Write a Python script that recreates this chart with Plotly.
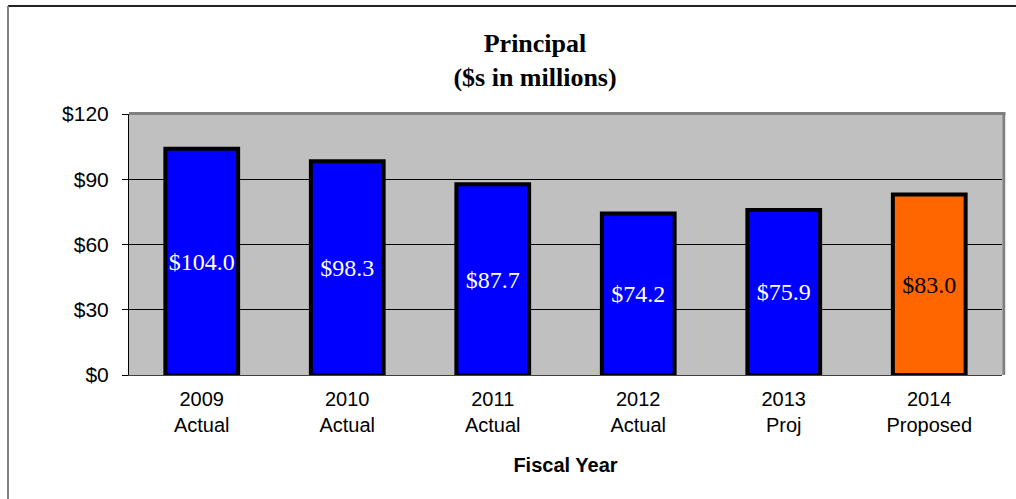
import plotly.graph_objects as go

categories = ["2009<br>Actual", "2010<br>Actual", "2011<br>Actual", "2012<br>Actual", "2013<br>Proj", "2014<br>Proposed"]
principal = [104.0, 98.3, 87.7, 74.2, 75.9, 83.0]
bar_colors = ["#0000FF", "#0000FF", "#0000FF", "#0000FF", "#0000FF", "#FF6600"]
label_colors = ["white", "white", "white", "white", "white", "black"]
y_ticks = [0, 30, 60, 90, 120]
y_tick_labels = ["$0", "$30", "$60", "$90", "$120"]

SANS = "Liberation Sans, Arial, sans-serif"
SERIF = "Liberation Serif, Times New Roman, serif"

fig = go.Figure(
    go.Bar(
        x=categories,
        y=principal,
        width=0.5,
        marker=dict(color=bar_colors, line=dict(color="black", width=4)),
        texttemplate="$%{y:.1f}",
        textposition="inside",
        insidetextanchor="middle",
        textangle=0,
        textfont=dict(family=SERIF, size=24, color=label_colors),
        hoverinfo="skip",
    )
)

fig.update_layout(
    width=1016,
    height=499,
    margin=dict(l=129, r=14, t=114, b=124),
    paper_bgcolor="white",
    plot_bgcolor="#C0C0C0",
    showlegend=False,
    title=dict(
        text="<b>Principal<br>($s in millions)</b>",
        font=dict(family=SERIF, size=26, color="black"),
        x=535 / 1016,
        xanchor="center",
        y=1 - 52 / 499,
        yanchor="top",
    ),
    bargap=0.48,
)

fig.update_xaxes(
    showline=True,
    linecolor="#404040",
    linewidth=1,
    ticks="",
    tickfont=dict(family=SANS, size=20, color="black"),
    ticklabelstandoff=6,
    title=dict(text="<b>Fiscal Year</b>", font=dict(family=SANS, size=20, color="black"), standoff=22),
    mirror=False,
)

fig.update_yaxes(
    range=[0, 120],
    tickvals=y_ticks,
    ticktext=y_tick_labels,
    tickfont=dict(family=SANS, size=21, color="black"),
    ticks="outside",
    ticklen=6,
    tickcolor="black",
    ticklabelstandoff=9,
    showgrid=True,
    gridcolor="black",
    gridwidth=1,
    showline=True,
    linecolor="black",
    linewidth=1,
    zeroline=False,
)

# Plot-area frame: shaded top and right edges
fig.add_shape(type="line", xref="paper", yref="paper", x0=0, x1=1.004, y0=1.002, y1=1.002,
              line=dict(color="#808080", width=3), layer="above")
fig.add_shape(type="line", xref="paper", yref="paper", x0=1.002, x1=1.002, y0=0, y1=1.002,
              line=dict(color="#808080", width=3), layer="above")

# Outer chart border (left and top edges)
bx0 = (8 - 129) / 873
by1 = (375 - 6) / 261
fig.add_shape(type="line", xref="paper", yref="paper", x0=bx0, x1=1.05, y0=by1, y1=by1,
              line=dict(color="#222222", width=2))
fig.add_shape(type="line", xref="paper", yref="paper", x0=bx0, x1=bx0, y0=-1, y1=by1,
              line=dict(color="#808080", width=2))

fig.write_html("out.html")
